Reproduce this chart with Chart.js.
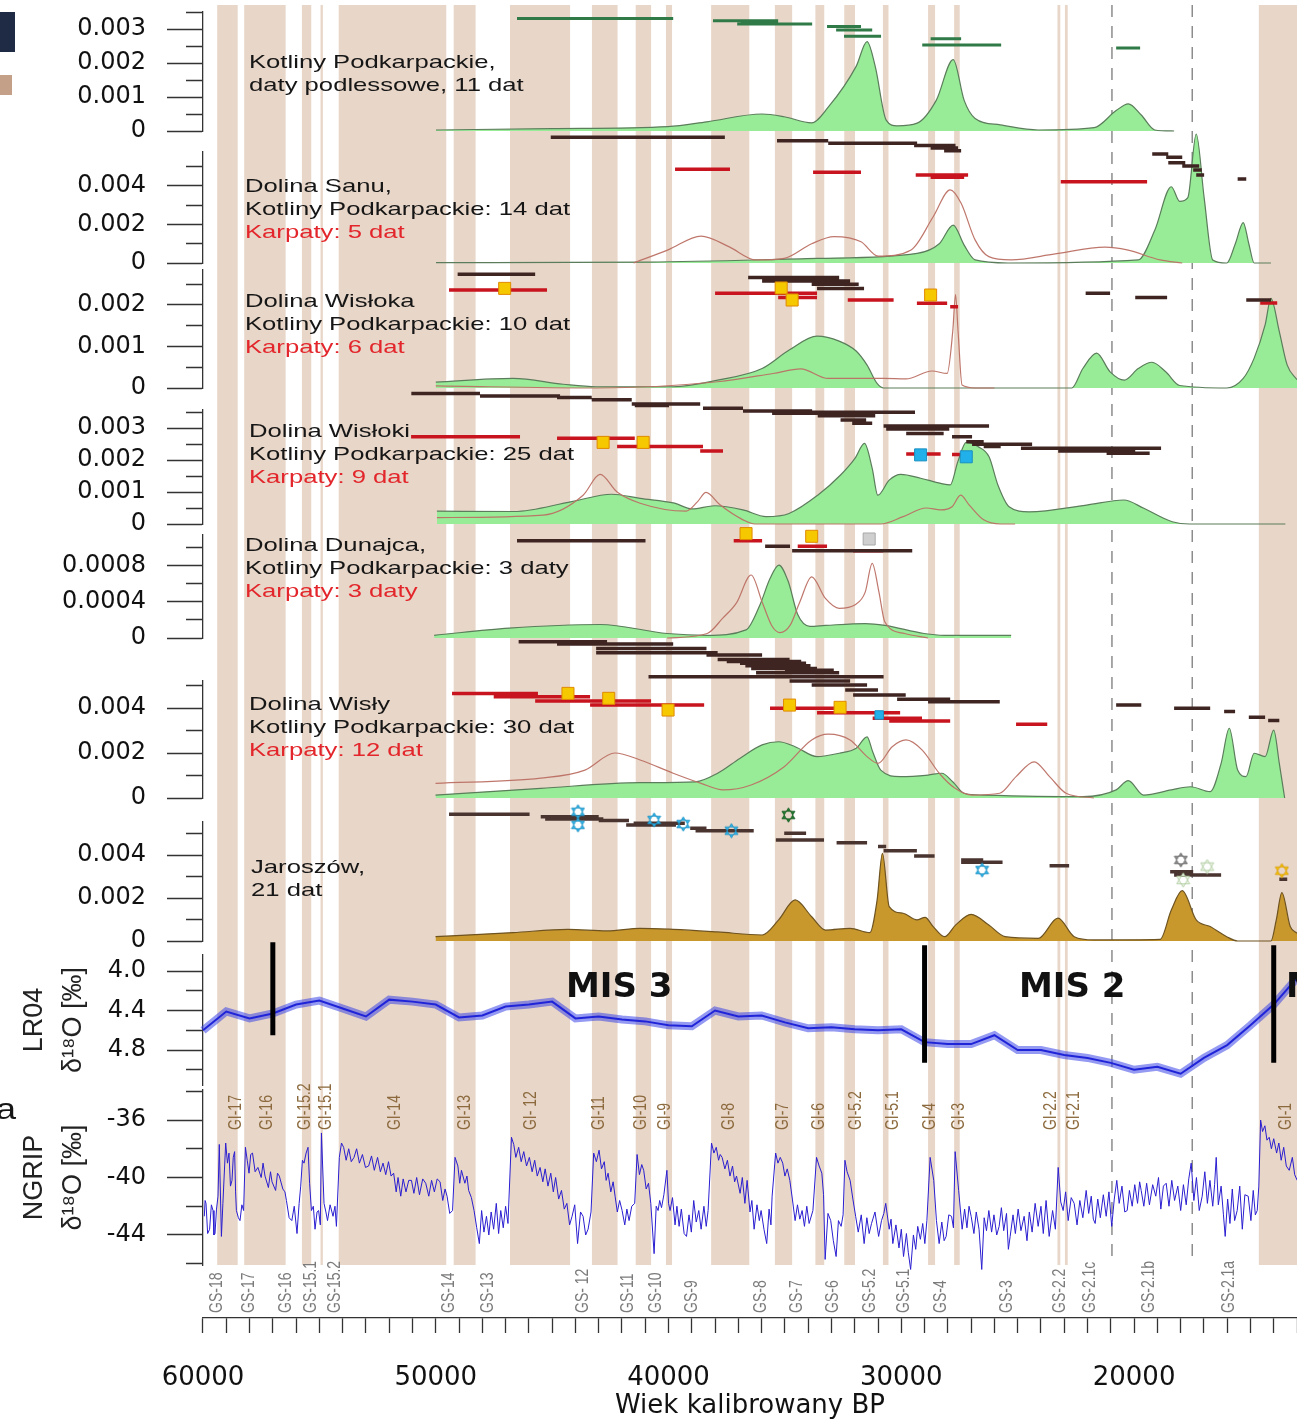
<!DOCTYPE html>
<html>
<head>
<meta charset="utf-8">
<title>Daty kalibrowane</title>
<script src="https://cdn.jsdelivr.net/npm/chart.js@4.4.1/dist/chart.umd.min.js"></script>
<style>
  body { margin: 0; background: #fff; }
  #wrap { position: relative; width: 1297px; height: 1419px; overflow: hidden; }
  #chart { position: absolute; left: 0; top: 0; }
  .txt { position: absolute; font-family: "Liberation Sans", Arial, sans-serif; font-size: 19px; line-height: 23px; color: #161616; white-space: nowrap; transform: scaleX(1.35); transform-origin: 0 0; }
  .red { color: #e3262b; }
</style>
</head>
<body>
<div id="wrap">
  <canvas id="chart" width="1297" height="1419"></canvas>
  <div style="position:absolute;left:0;top:12px;width:15px;height:40px;background:#1f2b45"></div>
  <div style="position:absolute;left:0;top:75px;width:12px;height:20px;background:#c4a088"></div>
  <div class="txt" style="left:-4px;top:1092px;font-size:30px;line-height:34px;transform:scaleX(1.2)">a</div>
  <div class="txt" style="left:249px;top:50px">Kotliny Podkarpackie,<br>daty podlessowe, 11 dat</div>
  <div class="txt" style="left:245px;top:174px">Dolina Sanu,<br>Kotliny Podkarpackie: 14 dat<br><span class="red">Karpaty: 5 dat</span></div>
  <div class="txt" style="left:245px;top:289px">Dolina Wisłoka<br>Kotliny Podkarpackie: 10 dat<br><span class="red">Karpaty: 6 dat</span></div>
  <div class="txt" style="left:249px;top:419px">Dolina Wisłoki<br>Kotliny Podkarpackie: 25 dat<br><span class="red">Karpaty: 9 dat</span></div>
  <div class="txt" style="left:245px;top:533px">Dolina Dunajca,<br>Kotliny Podkarpackie: 3 daty<br><span class="red">Karpaty: 3 daty</span></div>
  <div class="txt" style="left:249px;top:692px">Dolina Wisły<br>Kotliny Podkarpackie: 30 dat<br><span class="red">Karpaty: 12 dat</span></div>
  <div class="txt" style="left:251px;top:855px">Jaroszów,<br>21 dat</div>
</div>
<script>
// ---- shared x range (calibrated age BP) ----
const ageOld = 60000, ageYoung = 13000;
const xTicks = [];
for (let a = ageYoung; a <= ageOld; a += 1000) xTicks.push(a);

// Greenland interstadials (shaded) and stadial labels
const giStart = [59390, 58230, 55750, 54950, 54170, 49230, 46810, 43290, 41410, 40110, 38170, 35430, 33690, 32450, 30790, 28850, 27730, 23290, 22970, 14640];
const giEnd   = [58510, 56450, 55350, 54850, 49550, 48290, 44230, 42190, 40750, 39850, 36530, 34690, 33310, 31990, 30550, 28550, 27490, 23170, 22850, 13000];
const giLabelAge  = [58565, 57259, 55617, 54697, 51733, 48742, 45906, 42984, 41192, 40148, 37385, 35095, 33535, 31962, 30364, 28761, 27536, 23570, 22573, 13494];
const giLabelText = ['GI-17','GI-16','GI-15.2','GI-15.1','GI-14','GI-13','GI- 12','GI-11','GI-10','GI-9','GI-8','GI-7','GI-6','GI-5.2','GI-5.1','GI-4','GI-3','GI-2.2','GI-2.1','GI-1'];
const gsLabelAge  = [59407, 58023, 56416, 55342, 54345, 49429, 47754, 43676, 41759, 40535, 38996, 36010, 34484, 32929, 31352, 29904, 28301, 25478, 23188, 21886, 19372, 15934];
const gsLabelText = ['GS-18','GS-17','GS-16','GS-15.1','GS-15.2','GS-14','GS-13','GS- 12','GS-11','GS-10','GS-9','GS-8','GS-7','GS-6','GS-5.2','GS-5.1','GS-4','GS-3','GS-2.2','GS-2.1c','GS-2.1b','GS-2.1a'];
const dashAges = [20950, 17500];

// ---- panel 1: Kotliny Podkarpackie, daty podlessowe ----
const p1Age  = [49990, 45000, 40020, 38360, 35980, 35030, 33850, 33140, 31940, 31470, 31120, 30650, 30180, 29320, 28500, 27770, 27300, 26830, 25750, 24120, 21710, 20770, 20250, 19690, 19110, 18280];
const p1Dens = [0.00003, 0.00007, 0.00013, 0.00027, 0.0005, 0.00042, 0.00024, 0.0007, 0.0019, 0.00263, 0.0019, 0.00032, 0.00015, 0.00023, 0.0009, 0.0021, 0.0009, 0.00037, 0.00018, 0.00003, 0.0001, 0.0006, 0.0008, 0.00047, 0.00003, 0];
const p1Bars = [[46510,39800,0.00331],[38090,35290,0.00324],[36900,35300,0.0032],[37050,33830,0.00315],[33190,31730,0.00307],[32800,31250,0.00297],[32460,30870,0.00279],[28740,27430,0.00271],[29100,25710,0.00253],[20770,19740,0.00244]];

// ---- panel 2: Dolina Sanu ----
const p2Age  = [49990, 40860, 33620, 29320, 28370, 27770, 27300, 26830, 25410, 19820, 19110, 18400, 18040, 17690, 17330, 16990, 16620, 16020, 15650, 15310, 15070, 14840, 14120];
const p2Dens = [0.00002, 0.00005, 0.00024, 0.0005, 0.001, 0.00197, 0.00093, 0.00016, 0, 0.00016, 0.0017, 0.00396, 0.0032, 0.0034, 0.0067, 0.0034, 0.00016, 0, 0.001, 0.0021, 0.001, 0, 0];
const p2RedAge = [41500, 40020, 38600, 37410, 36240, 35030, 33850, 32890, 31730, 31000, 29580, 28630, 27900, 27430, 26830, 26240, 25290, 23390, 21250, 20300, 18880, 17930];
const p2RedVal = [0, 0.00068, 0.0014, 0.00085, 0.00016, 0.00024, 0.001, 0.00137, 0.0011, 0.00036, 0.00068, 0.0024, 0.0038, 0.0031, 0.0012, 0.00033, 0.00016, 0.00047, 0.00082, 0.00068, 0.00016, 0];
const p2Brown = [[45060,37580,0.00653],[35340,33140,0.00635],[33140,29320,0.00622],[29450,27670,0.0061],[28740,27560,0.00597],[28160,27430,0.00583],[19220,18530,0.00566],[18620,17930,0.00549],[18530,17800,0.00521],[17930,17200,0.00504],[17460,17090,0.00483],[17330,16990,0.00457],[15550,15180,0.00436]];
const p2RedBars = [[39720,37360,0.00487],[33790,31730,0.00471],[29380,27130,0.00457],[28740,27300,0.00445],[23150,19440,0.00422]];

// ---- panel 3: Dolina Wisłoka ----
const p3Age  = [50000, 46680, 44530, 43110, 39800, 37890, 35980, 34800, 33620, 32670, 31940, 31470, 31040, 30760, 22680, 22200, 21610, 21030, 20420, 19820, 19230, 18640, 18040, 16020, 15310, 14840, 14370, 14120, 13760, 13420, 13000];
const p3Dens = [0.00014, 0.00023, 0.00009, 0.00003, 0.00003, 0.00019, 0.00047, 0.00092, 0.00125, 0.00113, 0.00089, 0.00055, 0.00011, 0, 0, 0.00047, 0.00084, 0.00039, 0.00019, 0.00047, 0.00062, 0.00039, 0.00006, 0, 0.00023, 0.00072, 0.00152, 0.00216, 0.00136, 0.00055, 0.0002];
const p3RedAge = [50000, 43110, 37890, 35510, 34320, 33140, 31730, 30760, 29800, 28680, 28030, 27790, 27670, 27560, 27390, 26830, 26000];
const p3RedVal = [0.00005, 0, 0.00015, 0.00035, 0.00046, 0.00023, 0.00023, 0.00023, 0.00022, 0.00041, 0.00035, 0.00136, 0.00225, 0.00136, 0.00007, 0, 0];
const p3Brown = [[49060,45730,0.00274],[36580,32670,0.00266],[35980,32200,0.00258],[33850,31830,0.0025],[33620,31600,0.0024],[22080,21030,0.00228],[19950,18580,0.00218],[15180,14110,0.00212]];
const p3RedBars = [[49430,45220,0.00236],[38000,33620,0.00228],[35290,33620,0.00218],[32300,30330,0.00212],[29330,28030,0.00204],[27900,27560,0.00196],[14580,13850,0.00205]];
const p3YellowAge = [47040, 35160, 34690, 28740];
const p3YellowVal = [0.0024, 0.00241, 0.00212, 0.00224];

// ---- panel 4: Dolina Wisłoki ----
const p4Age  = [49950, 46640, 44160, 42440, 41220, 39740, 39000, 38020, 36800, 35810, 34820, 33590, 32610, 31990, 31580, 31250, 31010, 30520, 30020, 29170, 28310, 27900, 27570, 27210, 26710, 26230, 25850, 25370, 24510, 22040, 20440, 19580, 18360, 17610, 13500];
const p4Dens = [0.0004, 0.00039, 0.0007, 0.00093, 0.0008, 0.00065, 0.00047, 0.00057, 0.00044, 0.00023, 0.00033, 0.0009, 0.00153, 0.00205, 0.00252, 0.00174, 0.0009, 0.00137, 0.00155, 0.00143, 0.00127, 0.00122, 0.00195, 0.00255, 0.00242, 0.0021, 0.00122, 0.00054, 0.00038, 0.00059, 0.00075, 0.00049, 0.00007, 0, 0];
const p4RedAge = [49950, 45390, 43670, 42940, 42210, 41220, 39250, 38750, 38390, 37790, 36800, 36290, 30890, 29920, 28930, 28310, 27820, 27450, 27090, 26460, 25730, 25110];
const p4RedVal = [0.0002, 0.00028, 0.0009, 0.00155, 0.001, 0.00065, 0.0004, 0.0007, 0.00099, 0.0006, 0.00013, 0, 0, 0.00023, 0.0005, 0.00044, 0.00054, 0.0009, 0.0006, 0.00013, 0, 0];
const p4Brown = [[51050,48100,0.00408],[48100,44660,0.004],[44790,43300,0.00395],[43300,41580,0.00388],[41580,38640,0.00375],[41450,39980,0.0037],[38520,36800,0.00362],[36800,33830,0.00353],[35550,32840,0.00346],[33830,29410,0.00349],[33590,31120,0.00338],[32610,31510,0.00325],[32110,31250,0.00315],[30760,26230,0.00306],[30650,27940,0.00297],[29790,28180,0.00283],[27820,26960,0.00273],[27210,26460,0.00257],[26960,24380,0.00249],[26460,25730,0.00242],[24860,18840,0.00237],[23260,19950,0.00228],[21180,19330,0.00221]];
const p4RedBars = [[51060,46380,0.00273],[44790,41450,0.00268],[42210,38520,0.00242],[38640,37660,0.00228],[29790,28310,0.00219],[27820,26960,0.00217]];
const p4YellowAge = [42810, 41090];
const p4YellowVal = [0.00255, 0.00255];
const p4BlueAge = [29170, 27210];
const p4BlueVal = [0.00216, 0.0021];

// ---- panel 5: Dolina Dunajca ----
const p5Age  = [50070, 46850, 42940, 40060, 38340, 36670, 36070, 35640, 35260, 34860, 34450, 33930, 33260, 31550, 30710, 29020, 28160, 25280];
const p5Dens = [0.00003, 0.00011, 0.00015, 0.00005, 0.00003, 0.00009, 0.00037, 0.00066, 0.00081, 0.00063, 0.00026, 0.00013, 0.00014, 0.00016, 0.00014, 0.00005, 0.00003, 0.00003];
const p5RedAge = [40060, 38340, 37670, 37080, 36450, 35980, 35550, 35210, 34780, 34360, 33850, 33260, 32670, 31980, 31550, 31250, 30960, 30710, 29860, 28850];
const p5RedVal = [0, 0.00005, 0.00022, 0.00039, 0.0007, 0.0004, 0.00013, 0.00006, 0.00014, 0.0004, 0.00068, 0.00044, 0.00033, 0.00037, 0.00051, 0.00083, 0.00051, 0.00018, 0.00005, 0];
const p5Brown = [[46510,40990,0.00108],[35850,34780,0.00102],[34690,29530,0.00097]];
const p5RedBars = [[37200,35980,0.00108],[34450,33190,0.00102],[32070,30780,0.00097]];
const p5YellowAge = [36670, 33850];
const p5YellowVal = [0.00116, 0.00113];
const p5GreyAge = [31380];
const p5GreyVal = [0.0011];

// ---- panel 6: Dolina Wisły ----
const p6Age  = [50010, 45490, 41220, 38840, 37890, 36940, 35980, 35270, 34560, 33620, 32670, 31940, 31470, 31230, 30880, 30050, 28850, 28260, 27790, 27310, 26480, 22200, 20770, 20250, 19590, 18400, 17570, 16730, 16260, 15910, 15550, 15190, 14840, 14370, 14000, 13760, 13530];
const p6Dens = [0.00013, 0.00043, 0.00068, 0.00072, 0.0011, 0.00176, 0.00236, 0.0025, 0.00228, 0.00184, 0.00199, 0.00221, 0.00272, 0.00206, 0.00124, 0.00095, 0.00102, 0.0011, 0.00072, 0.00021, 0.00013, 0.00006, 0.00036, 0.00077, 0.00013, 0.00036, 0.0005, 0.00028, 0.00154, 0.0031, 0.00124, 0.00095, 0.00199, 0.00184, 0.00302, 0.00154, 0];
const p6RedAge = [50010, 45490, 43590, 42300, 41220, 39800, 38600, 37660, 36450, 35030, 33850, 33140, 32200, 31470, 31000, 30390, 29800, 29100, 28370, 27690, 26960, 25770, 25070, 24290, 23630, 22920, 21730];
const p6RedVal = [0.00065, 0.00088, 0.00124, 0.002, 0.00169, 0.0011, 0.00065, 0.00036, 0.00058, 0.00139, 0.00258, 0.00284, 0.00258, 0.00184, 0.00154, 0.00228, 0.00258, 0.00213, 0.0011, 0.00043, 0.00013, 0.00021, 0.00095, 0.00161, 0.00095, 0.00021, 0];
const p6Brown = [[46440,42640,0.00695],[44790,39800,0.00684],[43110,38370,0.00665],[43110,37890,0.00646],[38370,35980,0.00636],[37890,34800,0.00616],[37500,34300,0.00607],[36930,34090,0.00599],[36700,33900,0.00588],[36450,33620,0.00576],[35000,32900,0.00568],[36240,32670,0.00557],[40860,30760,0.00539],[34800,32200,0.0052],[33850,31470,0.00502],[32410,31000,0.0048],[32070,29810,0.00458],[30180,27900,0.00439],[28850,25770,0.00428],[20770,19690,0.00413],[18280,16730,0.00399],[16130,15660,0.00384],[15070,14370,0.00359],[14240,13760,0.00344]];
const p6RedBars = [[49300,45610,0.00465],[47510,43370,0.0045],[45730,40750,0.00431],[43370,38470,0.00413],[35640,32670,0.00399],[33620,30050,0.00379],[31230,29110,0.00354],[30520,27900,0.00342],[25070,23730,0.00328]];
const p6YellowAge = [44320, 42570, 40020, 34800, 32630];
const p6YellowVal = [0.00465, 0.00443, 0.00391, 0.00413, 0.00403];
const p6BlueAge = [30950];
const p6BlueVal = [0.00369];

// ---- panel 7: Jaroszów ----
const p7Age  = [50010, 46680, 44320, 42640, 41220, 39800, 37890, 35980, 35270, 34560, 33850, 33250, 32200, 31350, 31040, 30810, 30520, 29920, 29330, 28980, 28630, 28140, 27670, 27000, 26240, 25540, 24120, 23270, 22570, 21730, 18880, 18400, 17930, 17330, 16730, 16020, 15550, 14120, 13890, 13650, 13290, 13000];
const p7Dens = [0.0002, 0.00039, 0.00054, 0.00047, 0.00059, 0.00054, 0.00042, 0.00028, 0.00098, 0.00191, 0.00113, 0.00051, 0.00059, 0.00039, 0.0019, 0.00408, 0.0016, 0.00129, 0.00098, 0.0011, 0.00067, 0.0002, 0.00074, 0.00124, 0.00074, 0.0002, 0.00012, 0.00106, 0.0002, 0.00005, 0.00008, 0.00144, 0.00234, 0.00098, 0.00067, 0.0002, 0, 0, 0.00098, 0.00225, 0.00067, 0.00036];
const p7Brown = [[49430,45970,0.0059],[45490,43000,0.00578],[45300,42800,0.00568],[43000,41700,0.0056],[41820,39680,0.0054],[41500,39300,0.00548],[39070,38370,0.00524],[38840,36340,0.00513],[35030,34090,0.00501],[35390,33320,0.0047],[32780,31470,0.00457],[31000,30650,0.00439],[30760,29330,0.0042],[29450,28570,0.00395],[27430,26480,0.00377],[27430,25650,0.00366],[23630,22790,0.0035],[18450,17460,0.00322],[18280,16260,0.00307],[13760,13420,0.00287]];
const p7BlueStarAge = [43890, 43890, 40620, 39370, 37300, 26530];
const p7BlueStarVal = [0.00601, 0.0054, 0.00563, 0.00544, 0.00513, 0.0033];
const p7GreenStarAge = [34850];
const p7GreenStarVal = [0.00586];
const p7GreyStarAge = [17990];
const p7GreyStarVal = [0.00377];
const p7PaleStarAge = [17890, 16860];
const p7PaleStarVal = [0.00284, 0.00346];
const p7YellowStarAge = [13650];
const p7YellowStarVal = [0.00327];

// ---- LR04 benthic stack ----
const lrAge = [60000,59000,58000,57000,56000,55000,54000,53000,52000,51000,50000,49000,48000,47000,46000,45000,44000,43000,42000,41000,40000,39000,38000,37000,36000,35000,34000,33000,32000,31000,30000,29000,28000,27000,26000,25000,24000,23000,22000,21000,20000,19000,18000,17000,16000,15000,14000,13000];
const lrVal = [4.60,4.41,4.48,4.43,4.34,4.30,4.38,4.46,4.29,4.31,4.34,4.47,4.45,4.36,4.34,4.31,4.48,4.46,4.49,4.51,4.55,4.56,4.40,4.46,4.45,4.52,4.58,4.57,4.59,4.60,4.59,4.72,4.74,4.74,4.65,4.80,4.80,4.85,4.88,4.93,5.00,4.97,5.04,4.88,4.75,4.55,4.34,4.07];
const misAge = [57000, 29000, 14000];
const misTop = [3.71, 3.74, 3.74];
const misBottom = [4.65, 4.93, 4.93];
const misLabelText = ['MIS 3', 'MIS 2', 'MIS 1'];
const misLabelAge = [42120, 22660, 11190];

// ---- NGRIP d18O ----
const ngAge = [
  59944,59910,59871,59800,59716,59640,59570,59530,59484,59420,
  59355,59300,59209,59145,59025,58950,58883,58820,58754,58700,
  58642,58600,58565,58480,58410,58330,58255,58178,58100,58023,
  57950,57873,57760,57641,57500,57420,57336,57190,57100,57035,
  56880,56800,56721,56570,56480,56416,56300,56184,56080,55961,
  55870,55802,55730,55660,55570,55488,55420,55342,55260,55187,
  55100,55033,54960,54912,54801,54720,54650,54540,54414,54330,
  54268,54143,54050,53958,53850,53740,53630,53512,53400,53280,
  53150,53020,52884,52760,52640,52500,52380,52265,52150,52030,
  51920,51810,51700,51620,51505,51400,51280,51160,51045,50940,
  50820,50700,50560,50431,50300,50180,50060,49940,49816,49700,
  49600,49515,49400,49279,49172,49050,48970,48897,48750,48660,
  48587,48470,48355,48240,48128,48030,47930,47822,47720,47620,
  47513,47400,47300,47208,47100,47000,46898,46748,46650,46560,
  46439,46330,46220,46100,45979,45860,45750,45640,45519,45400,
  45300,45180,45059,44950,44850,44720,44599,44480,44367,44250,
  44144,44030,43908,43780,43671,43560,43456,43330,43216,43100,
  42984,42880,42760,42680,42597,42480,42380,42296,42200,42100,
  41995,41880,41790,41695,41580,41454,41351,41250,41150,41067,
  40960,40860,40762,40620,40530,40448,40380,40302,40200,40070,
  40000,39933,39830,39720,39640,39546,39450,39330,39228,39120,
  39020,38918,38810,38700,38600,38480,38380,38300,38154,38050,
  37950,37850,37780,37698,37580,37470,37360,37250,37160,37079,
  36925,36830,36720,36624,36500,36420,36323,36200,36100,36023,
  35900,35782,35680,35600,35550,35399,35300,35200,35094,35000,
  34900,34789,34680,34562,34460,34360,34261,34160,34060,33960,
  33797,33642,33530,33414,33340,33272,33150,33032,32920,32800,
  32700,32585,32500,32422,32330,32199,32080,31962,31850,31720,
  31597,31480,31380,31279,31130,30974,30850,30750,30669,30520,
  30440,30364,30230,30100,30000,29904,29780,29700,29599,29480,
  29380,29294,29180,29080,28989,28900,28761,28606,28490,28374,
  28260,28160,28073,27960,27841,27760,27687,27536,27386,27280,
  27180,27090,26999,26880,26780,26660,26544,26440,26340,26239,
  26120,26020,25900,25796,25700,25600,25480,25400,25323,25200,
  25100,24980,24860,24722,24600,24500,24380,24250,24120,24000,
  23900,23780,23647,23500,23380,23260,23150,23046,22940,22830,
  22700,22573,22450,22330,22200,22057,21950,21840,21750,21671,
  21560,21450,21320,21198,21080,20960,20850,20742,20640,20520,
  20400,20296,20200,20080,19970,19850,19760,19694,19580,19460,
  19340,19200,19067,18950,18850,18740,18620,18500,18380,18260,
  18120,17997,17880,17760,17650,17546,17430,17320,17200,17073,
  16960,16850,16740,16620,16540,16471,16380,16260,16160,16085,
  15980,15880,15780,15680,15569,15460,15350,15240,15096,14980,
  14880,14790,14709,14640,14563,14480,14380,14290,14194,14100,
  14000,13876,13780,13680,13571,13460,13334,13200,13100,12990
];
const ngVal = [
  -42.7,-41.6,-41.8,-43.9,-43.6,-41.9,-42.3,-44.0,-43.9,-42.2,
  -41.3,-37.7,-44.1,-41.8,-37.6,-39.0,-38.3,-40.6,-40.2,-38.6,
  -38.2,-41.0,-42.3,-42.8,-43.0,-41.9,-42.3,-37.9,-38.8,-39.7,
  -38.4,-38.3,-39.6,-39.3,-40.0,-39.0,-39.9,-40.7,-39.6,-40.3,
  -40.9,-39.7,-39.9,-40.8,-41.0,-41.6,-42.8,-43.0,-42.0,-43.9,
  -41.8,-40.6,-38.8,-39.0,-38.3,-37.9,-40.4,-42.3,-42.0,-43.6,
  -42.4,-42.3,-43.3,-36.9,-41.8,-42.4,-43.0,-41.9,-42.7,-42.0,
  -43.4,-38.6,-37.6,-37.9,-38.8,-38.0,-38.9,-38.6,-38.0,-39.0,
  -38.4,-39.3,-39.2,-38.5,-39.5,-38.6,-39.6,-39.0,-39.8,-38.9,
  -39.9,-39.7,-41.0,-40.0,-41.3,-40.1,-41.0,-40.2,-40.2,-41.1,
  -40.0,-41.2,-40.1,-40.4,-41.3,-40.2,-41.0,-40.1,-40.3,-41.6,
  -40.8,-41.3,-42.5,-42.3,-38.6,-39.2,-40.4,-39.5,-40.4,-39.9,
  -40.9,-41.4,-42.3,-43.5,-44.6,-42.3,-43.8,-42.7,-44.0,-42.4,
  -43.6,-41.8,-43.9,-42.3,-43.5,-42.0,-43.2,-37.2,-37.7,-38.6,
  -37.9,-38.9,-38.2,-39.2,-38.6,-39.6,-38.8,-39.9,-39.3,-40.3,
  -39.4,-40.6,-39.7,-41.0,-40.0,-41.5,-40.9,-42.2,-41.8,-43.3,
  -42.7,-41.9,-44.6,-42.4,-42.7,-44.0,-43.6,-42.4,-38.3,-38.9,
  -38.1,-39.4,-38.9,-40.2,-39.7,-41.0,-40.3,-41.3,-42.4,-41.6,
  -42.3,-43.3,-42.2,-43.0,-42.0,-41.8,-38.4,-39.8,-39.1,-39.5,
  -40.8,-40.4,-41.8,-45.3,-42.0,-42.3,-41.6,-42.1,-41.2,-39.5,
  -41.8,-42.3,-41.4,-43.3,-42.0,-43.4,-42.2,-43.9,-44.1,-42.6,
  -43.8,-41.6,-43.1,-42.3,-43.6,-42.0,-43.4,-42.3,-37.6,-38.3,
  -37.9,-38.8,-38.4,-38.6,-39.4,-38.8,-39.9,-39.2,-40.3,-39.9,
  -41.1,-40.0,-41.8,-40.2,-42.4,-41.6,-43.6,-41.9,-43.0,-42.3,
  -43.6,-44.6,-42.2,-43.3,-41.3,-38.3,-39.0,-38.6,-39.0,-39.9,
  -39.4,-40.2,-41.5,-43.0,-41.9,-42.9,-42.3,-43.4,-42.0,-43.2,
  -42.3,-38.6,-39.2,-39.7,-41.2,-45.7,-42.5,-43.0,-44.4,-45.5,
  -43.0,-43.4,-42.6,-38.8,-39.6,-40.2,-41.5,-42.7,-43.8,-42.6,
  -44.6,-42.8,-43.9,-43.2,-42.4,-44.1,-43.0,-42.5,-41.8,-43.6,
  -42.9,-44.6,-43.3,-44.9,-43.6,-45.5,-43.9,-45.2,-46.4,-44.0,
  -45.0,-43.4,-44.3,-43.2,-44.6,-43.0,-38.6,-40.2,-43.0,-44.6,
  -43.1,-44.4,-44.1,-42.6,-42.7,-43.5,-38.2,-40.9,-43.6,-42.2,
  -43.5,-42.0,-42.7,-43.9,-42.4,-43.6,-46.4,-42.8,-43.7,-42.3,
  -43.8,-42.6,-44.0,-43.4,-42.1,-43.7,-42.5,-45.0,-44.1,-42.6,
  -43.9,-42.2,-43.7,-42.7,-44.4,-42.4,-43.8,-41.8,-43.4,-42.0,
  -43.9,-41.6,-44.1,-42.3,-43.6,-39.3,-41.7,-42.3,-41.0,-43.0,
  -41.4,-41.8,-43.3,-41.6,-42.8,-40.9,-42.5,-41.3,-42.9,-43.2,
  -41.5,-42.8,-41.2,-42.7,-41.0,-43.4,-41.5,-40.2,-41.8,-40.6,
  -42.4,-42.3,-40.9,-42.0,-40.5,-41.8,-40.3,-40.9,-42.0,-40.4,
  -41.9,-40.5,-41.3,-40.0,-42.2,-40.6,-40.4,-42.0,-40.2,-41.6,
  -40.6,-42.3,-40.5,-41.9,-40.1,-39.0,-41.6,-40.0,-42.3,-41.3,
  -39.6,-41.8,-40.2,-42.0,-40.5,-38.6,-41.9,-40.6,-42.6,-44.1,
  -41.5,-43.2,-40.8,-43.0,-42.3,-40.6,-43.6,-41.2,-41.3,-43.0,
  -40.9,-42.6,-42.3,-40.6,-36.0,-36.8,-36.4,-37.4,-37.2,-38.0,
  -37.3,-38.3,-37.6,-38.8,-37.9,-39.2,-39.5,-38.6,-39.8,-40.2
];

// ---- y axis ticks per panel ----
const y1Ticks = [0, 0.0005, 0.001, 0.0015, 0.002, 0.0025, 0.003, 0.0035];
const y1Labels = ['0', '', '0.001', '', '0.002', '', '0.003', ''];
const y2Ticks = [0, 0.001, 0.002, 0.003, 0.004, 0.005];
const y2Labels = ['0', '', '0.002', '', '0.004', ''];
const y3Ticks = [0, 0.0005, 0.001, 0.0015, 0.002, 0.0025];
const y3Labels = ['0', '', '0.001', '', '0.002', ''];
const y4Ticks = [0, 0.0005, 0.001, 0.0015, 0.002, 0.0025, 0.003, 0.0035];
const y4Labels = ['0', '', '0.001', '', '0.002', '', '0.003', ''];
const y5Ticks = [0, 0.0002, 0.0004, 0.0006, 0.0008, 0.001];
const y5Labels = ['0', '', '0.0004', '', '0.0008', ''];
const y6Ticks = [0, 0.001, 0.002, 0.003, 0.004, 0.005];
const y6Labels = ['0', '', '0.002', '', '0.004', ''];
const y7Ticks = [0, 0.001, 0.002, 0.003, 0.004, 0.005];
const y7Labels = ['0', '', '0.002', '', '0.004', ''];
const y8Ticks = [4.0, 4.2, 4.4, 4.6, 4.8, 5.0];
const y8Labels = ['4.0', '', '4.4', '', '4.8', ''];
const y9Ticks = [-46, -44, -42, -40, -38, -36, -34];
const y9Labels = ['', '-44', '', '-40', '', '-36', ''];

const TAN = '#e8d6c8';
const GREEN_FILL = '#98ec98';
const GREEN_LINE = '#5b7d5b';
const RED_LINE = 'rgba(188,112,100,0.95)';
const BROWN = '#3e2522';
const RED = '#c8141e';

Chart.defaults.font.family = '"DejaVu Sans", sans-serif';

// stacked panels, top to bottom (h = pixel share of the plot height)
const panels = [
  {id: 'sTop', h: 7},
  {id: 'y1', h: 119, min: 0, max: 0.0035, ticks: y1Ticks, labels: y1Labels},
  {id: 'g1', h: 21},
  {id: 'y2', h: 111, min: 0, max: 0.005766, ticks: y2Ticks, labels: y2Labels},
  {id: 'g2', h: 7},
  {id: 'y3', h: 118, min: 0, max: 0.002843, ticks: y3Ticks, labels: y3Labels},
  {id: 'g3', h: 22},
  {id: 'y4', h: 114, min: 0, max: 0.0035625, ticks: y4Ticks, labels: y4Labels},
  {id: 'g4', h: 11},
  {id: 'y5', h: 103, min: 0, max: 0.0011444, ticks: y5Ticks, labels: y5Labels},
  {id: 'g5', h: 43},
  {id: 'y6', h: 117, min: 0, max: 0.0052, ticks: y6Ticks, labels: y6Labels},
  {id: 'g6', h: 24},
  {id: 'y7', h: 119, min: 0, max: 0.0055349, ticks: y7Ticks, labels: y7Labels},
  {id: 'g7', h: 14},
  {id: 'y8', h: 130, min: 3.838, max: 5.154, reverse: true, ticks: y8Ticks, labels: y8Labels, title: ['LR04', 'δ¹⁸O [‰]']},
  {id: 'g8', h: 5},
  {id: 'y9', h: 175, min: -46.09, max: -33.91, ticks: y9Ticks, labels: y9Labels, title: ['NGRIP', 'δ¹⁸O [‰]']},
  {id: 'sBottom', h: 53}
];

function fixWidth(s) { s.width = 203; s.paddingTop = 0; s.paddingBottom = 0; }

const scales = {
  x: {
    type: 'linear', position: 'bottom', min: ageYoung, max: ageOld, reverse: true,
    afterBuildTicks: s => { s.ticks = xTicks.map(v => ({value: v})); },
    afterFit: s => { s.height = 101; s.paddingLeft = 0; s.paddingRight = 0; },
    ticks: {autoSkip: false, maxRotation: 0, padding: 30, color: '#111', font: {size: 26},
      callback: v => (v % 10000 === 0 ? String(v) : '')},
    grid: {drawOnChartArea: false, tickLength: 15, tickColor: '#333', tickWidth: 1.3},
    border: {color: '#333', width: 1.3},
    title: {display: true, text: 'Wiek kalibrowany BP', color: '#111', font: {size: 26, lineHeight: 1.0}, padding: {top: 0, bottom: 0}}
  }
};
panels.forEach((p, i) => {
  const w = panels.length - i;
  if (!p.ticks) {
    scales[p.id] = {type: 'linear', position: 'left', stack: 'v', stackWeight: p.h, weight: w,
      afterFit: fixWidth, ticks: {display: false}, grid: {display: false}, border: {display: false}};
    return;
  }
  scales[p.id] = {
    type: 'linear', position: 'left', stack: 'v', stackWeight: p.h, weight: w,
    min: p.min, max: p.max, reverse: !!p.reverse,
    afterBuildTicks: s => { s.ticks = p.ticks.map(v => ({value: v})); },
    afterFit: fixWidth,
    ticks: {autoSkip: false, padding: 21, color: '#111', font: {size: 24},
      callback: (v, idx) => p.labels[idx]},
    grid: {drawOnChartArea: false, tickLength: 36, tickColor: '#333', tickWidth: 1.3,
      tickBorderDash: ctx => (p.labels[ctx.index] === '' ? [0, 19, 17, 1000] : [])},
    border: {color: '#333', width: 1.3},
    title: p.title ? {display: true, text: p.title, color: '#222',
      font: {family: '"Liberation Sans", Arial, sans-serif', size: 27, lineHeight: 1.45}, padding: {top: 15, bottom: 0}} : {display: false}
  };
});

// ---- dataset builders ----
function zip(ages, vals) { return ages.map((a, i) => ({x: a, y: vals[i]})); }
function density(ages, vals, yID, fillColor, lineColor) {
  return {yAxisID: yID, data: zip(ages, vals), borderColor: lineColor, borderWidth: 1.2,
    backgroundColor: fillColor || 'transparent', fill: fillColor ? 'origin' : false,
    pointRadius: 0, cubicInterpolationMode: 'monotone', clip: false, order: fillColor ? 4 : 3};
}
function bars(list, yID, color, width) {
  const d = [];
  list.forEach(([a, b, v]) => { d.push({x: a, y: v}, {x: b, y: v}, {x: b, y: null}); });
  return {yAxisID: yID, data: d, borderColor: color, borderWidth: width, pointRadius: 0,
    spanGaps: false, fill: false, clip: false, order: 2, borderCapStyle: 'butt'};
}
function marks(ages, vals, yID, style, bg, bd, r) {
  return {yAxisID: yID, data: zip(ages, vals), showLine: false, pointStyle: style, pointRadius: r,
    pointBackgroundColor: bg, pointBorderColor: bd, pointBorderWidth: 1, clip: false, order: 0};
}
function starImage(fill, stroke) {
  const c = document.createElement('canvas');
  c.width = 15; c.height = 16;
  const g = c.getContext('2d');
  g.fillStyle = fill; g.strokeStyle = stroke; g.lineWidth = 0.8;
  g.beginPath(); g.moveTo(7.5, 0.8); g.lineTo(14, 11.8); g.lineTo(1, 11.8); g.closePath();
  g.moveTo(7.5, 15.2); g.lineTo(14, 4.2); g.lineTo(1, 4.2); g.closePath();
  g.fill(); g.stroke();
  return c;
}
const blueStar = starImage('#2fb3ea', '#1a8fc0');
const greenStar = starImage('#1f7a2e', '#145a20');
const greyStar = starImage('#8d8d8d', '#6b6b6b');
const paleStar = starImage('#eef6e6', '#a9c89a');
const yellowStar = starImage('#f5c400', '#d99a00');

const datasets = [
  // panel 1
  bars(p1Bars, 'y1', '#2f7a47', 3),
  density(p1Age, p1Dens, 'y1', GREEN_FILL, GREEN_LINE),
  // panel 2
  bars(p2Brown, 'y2', BROWN, 3.5),
  bars(p2RedBars, 'y2', RED, 3.5),
  density(p2RedAge, p2RedVal, 'y2', null, RED_LINE),
  density(p2Age, p2Dens, 'y2', GREEN_FILL, GREEN_LINE),
  // panel 3
  marks(p3YellowAge, p3YellowVal, 'y3', 'rect', '#f6c800', '#e08a00', 8.5),
  bars(p3Brown, 'y3', BROWN, 3.5),
  bars(p3RedBars, 'y3', RED, 3.5),
  density(p3RedAge, p3RedVal, 'y3', null, RED_LINE),
  density(p3Age, p3Dens, 'y3', GREEN_FILL, GREEN_LINE),
  // panel 4
  marks(p4YellowAge, p4YellowVal, 'y4', 'rect', '#f6c800', '#e08a00', 8.5),
  marks(p4BlueAge, p4BlueVal, 'y4', 'rect', '#22b0ea', '#1a8fc0', 8.5),
  bars(p4Brown, 'y4', BROWN, 3.5),
  bars(p4RedBars, 'y4', RED, 3.5),
  density(p4RedAge, p4RedVal, 'y4', null, RED_LINE),
  density(p4Age, p4Dens, 'y4', GREEN_FILL, GREEN_LINE),
  // panel 5
  marks(p5YellowAge, p5YellowVal, 'y5', 'rect', '#f6c800', '#e08a00', 8.5),
  marks(p5GreyAge, p5GreyVal, 'y5', 'rect', '#cfcfcf', '#a8a8a8', 8.5),
  bars(p5Brown, 'y5', BROWN, 3.5),
  bars(p5RedBars, 'y5', RED, 3.5),
  density(p5RedAge, p5RedVal, 'y5', null, RED_LINE),
  density(p5Age, p5Dens, 'y5', GREEN_FILL, GREEN_LINE),
  // panel 6
  marks(p6YellowAge, p6YellowVal, 'y6', 'rect', '#f6c800', '#e08a00', 8.5),
  marks(p6BlueAge, p6BlueVal, 'y6', 'rect', '#22b0ea', '#1a8fc0', 6),
  bars(p6Brown, 'y6', BROWN, 3.5),
  bars(p6RedBars, 'y6', RED, 3.5),
  density(p6RedAge, p6RedVal, 'y6', null, RED_LINE),
  density(p6Age, p6Dens, 'y6', GREEN_FILL, GREEN_LINE),
  // panel 7
  marks(p7BlueStarAge, p7BlueStarVal, 'y7', blueStar, null, null, 7),
  marks(p7GreenStarAge, p7GreenStarVal, 'y7', greenStar, null, null, 7),
  marks(p7GreyStarAge, p7GreyStarVal, 'y7', greyStar, null, null, 7),
  marks(p7PaleStarAge, p7PaleStarVal, 'y7', paleStar, null, null, 7),
  marks(p7YellowStarAge, p7YellowStarVal, 'y7', yellowStar, null, null, 7),
  bars(p7Brown, 'y7', '#4a3430', 3.5),
  density(p7Age, p7Dens, 'y7', '#c9982c', '#6e5320'),
  // LR04
  ...misAge.map((a, i) => ({yAxisID: 'y8', data: [{x: a, y: misTop[i]}, {x: a, y: misBottom[i]}],
    borderColor: '#000', borderWidth: 5, pointRadius: 0, clip: false, order: 0})),
  {yAxisID: 'y8', data: zip(lrAge, lrVal), borderColor: '#2024d8', borderWidth: 2, pointRadius: 0, clip: false, order: 1},
  {yAxisID: 'y8', data: zip(lrAge, lrVal), borderColor: 'rgba(60,70,230,0.55)', borderWidth: 8, pointRadius: 0, clip: false, order: 2},
  // NGRIP
  {yAxisID: 'y9', data: zip(ngAge, ngVal), borderColor: '#2a1ed0', borderWidth: 1, pointRadius: 0, clip: false, order: 1}
];

// background bands, dashed lines, GI / GS / MIS labels
const decor = {
  id: 'decor',
  beforeDatasetsDraw(chart) {
    const {ctx, chartArea} = chart;
    const x = chart.scales.x, yN = chart.scales.y9;
    const top = chartArea.top, bot = yN.bottom;
    ctx.save();
    ctx.fillStyle = TAN;
    giStart.forEach((s, i) => {
      const x1 = Math.max(x.getPixelForValue(s), chartArea.left);
      const x2 = Math.min(x.getPixelForValue(giEnd[i]), chartArea.right);
      if (x2 > x1) ctx.fillRect(x1, top, x2 - x1, bot - top);
    });
    ctx.strokeStyle = '#8c8c8c'; ctx.lineWidth = 1.5; ctx.setLineDash([12, 9]);
    dashAges.forEach(a => {
      const px = x.getPixelForValue(a);
      ctx.beginPath(); ctx.moveTo(px, top); ctx.lineTo(px, bot); ctx.stroke();
    });
    ctx.setLineDash([]);
    ctx.font = '14px "Liberation Sans", Arial, sans-serif';
    ctx.textAlign = 'left'; ctx.textBaseline = 'middle';
    const giY = yN.getPixelForValue(-36.7);
    ctx.fillStyle = '#8c6a3e';
    giLabelAge.forEach((a, i) => {
      ctx.save(); ctx.translate(x.getPixelForValue(a), giY); ctx.scale(1.3, 1); ctx.rotate(-Math.PI / 2);
      ctx.fillText(giLabelText[i], 0, 0); ctx.restore();
    });
    ctx.fillStyle = '#7b7b7b';
    const gsY = x.top - 5;
    gsLabelAge.forEach((a, i) => {
      ctx.save(); ctx.translate(x.getPixelForValue(a), gsY); ctx.scale(1.3, 1); ctx.rotate(-Math.PI / 2);
      ctx.fillText(gsLabelText[i], 0, 0); ctx.restore();
    });
    ctx.restore();
  },
  afterDatasetsDraw(chart) {
    const {ctx} = chart;
    const x = chart.scales.x, y8 = chart.scales.y8;
    ctx.save();
    ctx.font = 'bold 34px "DejaVu Sans", sans-serif';
    ctx.fillStyle = '#111'; ctx.textAlign = 'center'; ctx.textBaseline = 'middle';
    misLabelText.forEach((t, i) => ctx.fillText(t, x.getPixelForValue(misLabelAge[i]), y8.getPixelForValue(4.17)));
    ctx.restore();
  }
};

new Chart(document.getElementById('chart'), {
  type: 'line',
  data: {datasets},
  options: {
    responsive: false,
    animation: false,
    events: [],
    layout: {autoPadding: false, padding: {top: 5, left: 0, right: 0, bottom: 0}},
    plugins: {legend: {display: false}, tooltip: {enabled: false}},
    scales
  },
  plugins: [decor]
});
</script>
</body>
</html>
